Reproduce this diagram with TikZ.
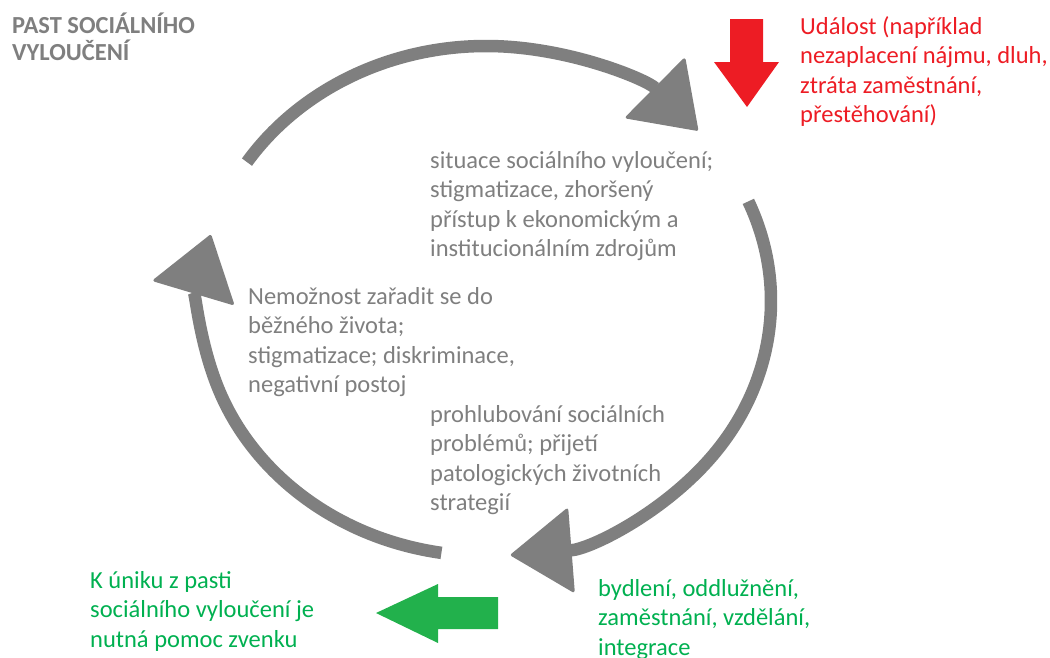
\documentclass[tikz,border=0pt]{standalone}
\usepackage{fontspec}
\setmainfont{Carlito}
\usepackage{tikz}
\usetikzlibrary{arrows.meta}
\usetikzlibrary{positioning}
\definecolor{cyclegray}{HTML}{7F7F7F}
\definecolor{eventred}{HTML}{ED1C24}
\definecolor{helpgreen}{HTML}{22B14C}
\definecolor{textgreen}{HTML}{00B050}

\begin{document}
\begin{tikzpicture}[x=1pt,y=1pt,
cyclearrow/.style={draw=cyclegray, line width=12.5pt,
  -{Triangle[length=62pt,width=86pt,line width=3pt,round]}},
blocktext/.style={anchor=base west, align=left, inner sep=0pt,
  text=cyclegray, font=\fontsize{24.5}{29.5}\selectfont},
titletext/.style={blocktext, font=\fontsize{24.5}{27}\selectfont\bfseries}]
\useasboundingbox (0,0) rectangle (1050,-657);

\coordinate (c) at (486,-301);

% cycle
\draw[cyclearrow] ([shift={(147:285 and 255)}]c)
  arc[start angle=147, end angle=42, x radius=285, y radius=255];
\draw[cyclearrow] ([shift={(23:285 and 255)}]c)
  arc[start angle=23, end angle=-85, x radius=285, y radius=255];
\draw[cyclearrow] ([shift={(261:285 and 255)}]c)
  arc[start angle=261, end angle=165, x radius=285, y radius=255];

% block arrows
\fill[eventred] (730,-19) -- (763,-19) -- (763,-62) -- (779,-62)
  -- (747,-107) -- (714,-62) -- (730,-62) -- cycle;
\fill[helpgreen] (498,-597) -- (438,-597) -- (438,-584) -- (376,-613)
  -- (438,-643) -- (438,-629) -- (498,-629) -- cycle;

% anchors sit on the last line
\node[titletext] (title) at (12,-60) {PAST SOCIÁLNÍHO\\VYLOUČENÍ};
\node[blocktext, text=eventred] (event) at (800,-122.5)
  {Událost (například\\nezaplacení nájmu, dluh,\\ztráta zaměstnání,\\přestěhování)};
\node[blocktext] (situation) at (430,-256.5)
  {situace sociálního vyloučení;\\stigmatizace, zhoršený\\přístup k ekonomickým a\\institucionálním zdrojům};
\node[blocktext] (inability) at (248,-392.5)
  {Nemožnost zařadit se do\\běžného života;\\stigmatizace; diskriminace,\\negativní postoj};
\node[blocktext] (deepening) at (430,-510.5)
  {prohlubování sociálních\\problémů; přijetí\\patologických životních\\strategií};
\node[blocktext, text=textgreen] (escape) at (90,-647)
  {K úniku z pasti\\sociálního vyloučení je\\nutná pomoc zvenku};
\node[blocktext, text=textgreen] (help) at (598,-655)
  {bydlení, oddlužnění,\\zaměstnání, vzdělání,\\integrace};
\end{tikzpicture}
\end{document}
